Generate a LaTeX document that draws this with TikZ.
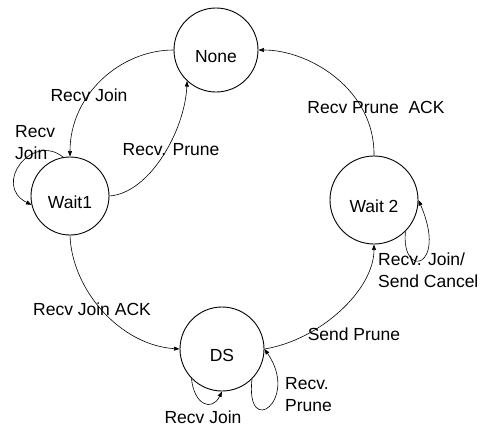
\documentclass[tikz,border=0pt]{standalone}
\usepackage{fontspec}
\setmainfont{Liberation Sans}
\usetikzlibrary{arrows.meta}
\begin{document}
\begin{tikzpicture}[x=1pt,y=-1pt,
  state/.style={draw, circle, line width=0.9pt, inner sep=0pt,
    font=\fontsize{17.5}{22}\selectfont, text height=26pt, text depth=1.5pt},
  lbl/.style={inner sep=0pt, font=\fontsize{17.5}{22}\selectfont},
  edge/.style={line width=0.6pt, -{Triangle[length=5.5pt,width=4pt]}}]
\useasboundingbox (0,0) rectangle (482,426);

% states
\node[state, minimum size=84pt] (none)  at (216,50)  {None};
\node[state, minimum size=78pt] (wait1) at (70,196)  {Wait1};
\node[state, minimum size=88pt] (wait2) at (374,200) {Wait 2};
\node[state, minimum size=84pt] (ds)    at (222,349) {DS};

% transitions
\draw[edge] (none.west) .. controls (120,50) and (70,95) .. (wait1.north);
\draw[edge] (wait1.east) .. controls (150,193) and (185,130) .. (none.227);
\draw[edge] (wait1.100) .. controls (32,132) and (-8,185) .. (wait1.193);
\draw[edge] (wait1.south) .. controls (72,290) and (120,345) .. (ds.west);
\draw[edge] (wait2.north) .. controls (375,90) and (310,50) .. (none.east);
\draw[edge] (ds.east) .. controls (320,340) and (374,290) .. (wait2.south);
\draw[edge] (ds.-45) .. controls (245,440) and (300,400) .. (ds.east);
\draw[edge] (ds.224) .. controls (194,405) and (212,412) .. (ds.south);
\draw[edge] (wait2.-45) .. controls (401,280) and (448,268) .. (wait2.east);

% transition labels
\node[lbl, anchor=base] (l1) at (89,101) {Recv Join};
\node[lbl, anchor=base] (l2) at (171,155) {Recv. Prune};
\node[lbl, anchor=north west, align=left] (l3) at (15,125) {Recv\\Join};
\node[lbl, anchor=base] (l4) at (92,315) {Recv Join ACK};
\node[lbl, anchor=base] (l5) at (376,113) {Recv Prune\ \ ACK};
\node[lbl, anchor=base] (l6) at (354,340) {Send Prune};
\node[lbl, anchor=north west, align=left] (l7) at (285,377) {Recv.\\Prune};
\node[lbl, anchor=base] (l8) at (203,423) {Recv Join};
\node[lbl, anchor=north west, align=left] (l9) at (378,253) {Recv. Join/\\Send Cancel};
\end{tikzpicture}
\end{document}
